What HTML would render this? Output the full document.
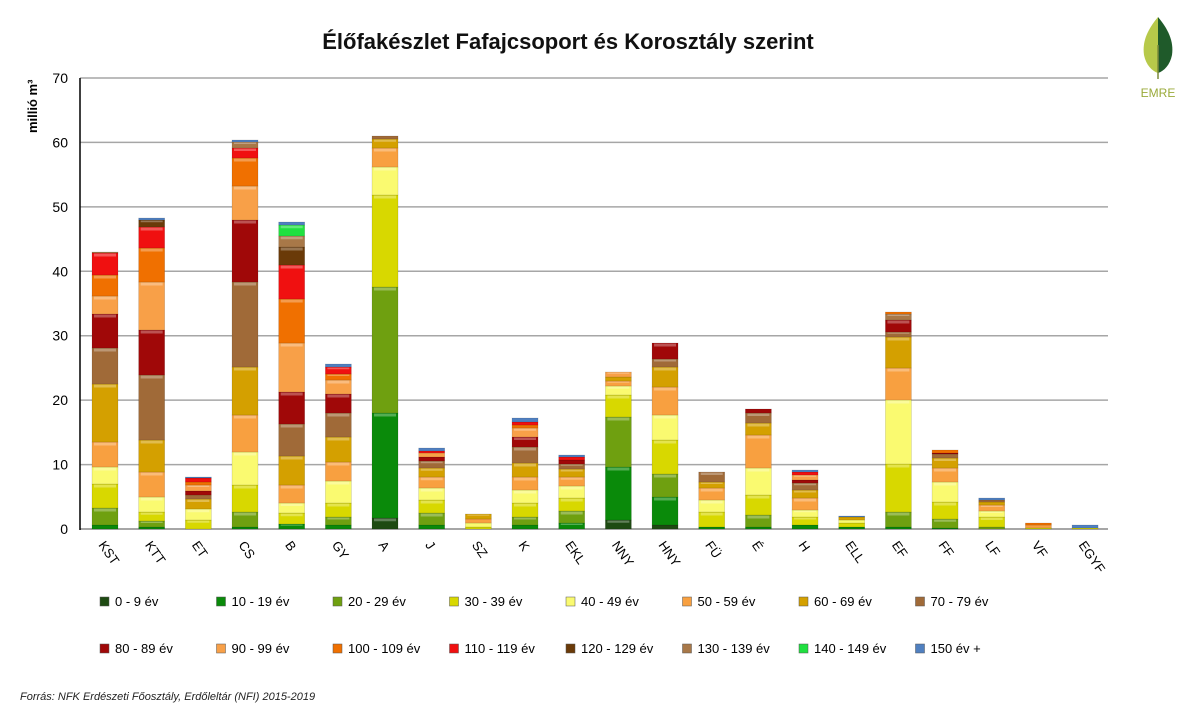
<!DOCTYPE html>
<html><head><meta charset="utf-8"><style>
body{margin:0;background:#fff;}
svg text{font-family:"Liberation Sans",sans-serif;}
</style></head><body>
<svg id="s" width="1194" height="720" viewBox="0 0 1194 720" xmlns="http://www.w3.org/2000/svg">
<rect width="1194" height="720" fill="#fff"/>
<text x="568" y="49" text-anchor="middle" font-size="22" font-weight="bold" fill="#111">Élőfakészlet Fafajcsoport és Korosztály szerint</text>
<text transform="translate(37,133) rotate(-90)" font-size="13" font-weight="bold" fill="#000">millió m³</text>
<g id="grid"></g>
<g id="bars"></g>
<line x1="80" y1="78" x2="80" y2="530" stroke="#000" stroke-width="1.5"/>
<g id="leg"></g>
<text x="20" y="700" font-size="11" font-style="italic" fill="#222">Forrás: NFK Erdészeti Főosztály, Erdőleltár (NFI) 2015-2019</text>
<g transform="translate(1140,15)">
<path d="M18,2 C8,14 2,26 4,40 C6,50 12,56 18,58 Z" fill="#b7c94a"/>
<path d="M18,2 C28,14 34,26 32,40 C30,50 24,56 18,58 Z" fill="#1f5a2a"/>
<line x1="18" y1="30" x2="18" y2="64" stroke="#7a8a3a" stroke-width="1.5"/>
<text x="18" y="82" text-anchor="middle" font-size="12" fill="#9aaa3a">EMRE</text>
</g>
</svg>
<script>
const C=["#1e4a12","#0a8a0a","#6fa010","#d8d800","#fafa70","#f8a040","#d4a000","#a06a38","#a00808","#f8a048","#f07000","#f01010","#6a3a08","#a87848","#20e040","#5080c0"];
const cats=["KST","KTT","ET","CS","B","GY","A","J","SZ","K","EKL","NNY","HNY","FÜ","É","H","ELL","EF","FF","LF","VF","EGYF"];
const D=[
[[525,1],[508,2],[484,3],[467,4],[442,5],[384,6],[348,7],[314,8],[296,9],[275,10],[253,11],[252,13]],
[[527,1],[521,2],[512,3],[497,4],[472,5],[440,6],[375,7],[330,8],[282,9],[248,10],[227,11],[220,12],[218,15]],
[[520,3],[509,4],[499,6],[495,7],[491,8],[485,9],[482,10],[478,11],[477,15]],
[[527,1],[512,2],[485,3],[452,4],[415,5],[367,6],[282,7],[220,8],[186,9],[158,10],[148,11],[142,13],[140,15]],
[[524,1],[513,3],[503,4],[485,5],[456,6],[424,7],[392,8],[343,9],[299,10],[265,11],[247,12],[236,13],[225,14],[222,15]],
[[525,1],[517,2],[503,3],[481,4],[462,5],[437,6],[413,7],[394,8],[380,9],[374,10],[367,11],[364,15]],
[[518,0],[413,1],[287,2],[195,3],[167,4],[148,5],[139,6],[136,7]],
[[525,1],[513,2],[500,3],[488,4],[477,5],[468,6],[461,7],[457,8],[453,9],[451,11],[448,15]],
[[527,3],[523,4],[519,5],[514,6]],
[[525,1],[517,2],[503,3],[490,4],[477,5],[463,6],[447,7],[437,8],[428,9],[425,10],[422,11],[418,15]],
[[523,1],[511,2],[498,3],[486,4],[477,5],[469,6],[464,7],[460,8],[457,11],[455,15]],
[[520,0],[467,1],[417,2],[395,3],[386,4],[381,5],[377,6],[372,9]],
[[525,0],[497,1],[474,2],[440,3],[415,4],[387,5],[367,6],[359,7],[343,8]],
[[527,1],[512,3],[500,4],[488,5],[482,6],[472,7]],
[[527,1],[515,2],[495,3],[468,4],[435,5],[423,6],[413,7],[409,8]],
[[525,1],[517,3],[510,4],[498,5],[490,6],[483,7],[480,8],[475,9],[472,11],[470,15]],
[[527,1],[523,3],[520,4],[517,6],[516,15]],
[[527,1],[512,2],[464,3],[400,4],[368,5],[337,6],[332,7],[320,8],[314,13],[312,10]],
[[528,1],[519,2],[502,3],[482,4],[468,5],[458,6],[454,7],[453,8],[450,10]],
[[527,2],[517,3],[511,4],[505,5],[502,6],[500,7],[498,15]],
[[528,3],[525,5],[523,10]],
[[528,3],[525,15]]
];
const ns="http://www.w3.org/2000/svg";
function el(t,a,p,txt){const e=document.createElementNS(ns,t);for(const k in a)e.setAttribute(k,a[k]);if(txt!==undefined)e.textContent=txt;p.appendChild(e);return e;}
const g=document.getElementById("grid");
for(let i=0;i<=7;i++){const y=529-i*64.43;
 if(i>0)el("line",{x1:80,y1:y,x2:1108,y2:y,stroke:"#a6a6a6","stroke-width":1.5},g);
 else el("line",{x1:80,y1:y,x2:1108,y2:y,stroke:"#888","stroke-width":1.5},g);
 el("text",{x:68,y:y+5,"text-anchor":"end","font-size":14,fill:"#000"},g,String(i*10));}
const b=document.getElementById("bars");
D.forEach((segs,i)=>{const cx=105+i*46.67,x=cx-13;let prev=529;
 segs.forEach(([top,c])=>{const h=prev-top;if(h>0){el("rect",{x:x,y:top,width:26,height:h,fill:C[c],stroke:"rgba(0,0,0,0.18)","stroke-width":0.6},b);
 if(h>4)el("rect",{x:x+2,y:top+0.5,width:22,height:Math.min(3,h/4),fill:"rgba(255,255,255,0.3)"},b);}prev=top;});
 el("text",{transform:`translate(${cx-7},${545}) rotate(55)`,"font-size":13,fill:"#000"},b,cats[i]);});
const L=["0 - 9 év","10 - 19 év","20 - 29 év","30 - 39 év","40 - 49 év","50 - 59 év","60 - 69 év","70 - 79 év","80 - 89 év","90 - 99 év","100 - 109 év","110 - 119 év","120 - 129 év","130 - 139 év","140 - 149 év","150 év +"];
const lg=document.getElementById("leg");
L.forEach((t,i)=>{const r=Math.floor(i/8),c=i%8;const x=100+c*116.5,y=602+r*47;
 el("rect",{x:x,y:y-5,width:9,height:9,fill:C[i],stroke:"#555","stroke-width":0.5},lg);
 el("text",{x:x+15,y:y+4,"font-size":13,fill:"#000"},lg,t);});
</script>
</body></html>
